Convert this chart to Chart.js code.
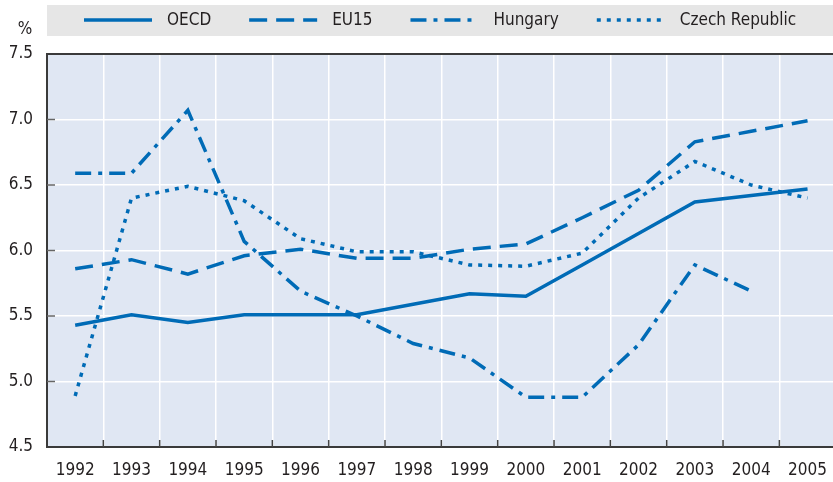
<!DOCTYPE html>
<html>
<head>
<meta charset="utf-8">
<script src="https://cdn.jsdelivr.net/npm/chart.js@4.4.1/dist/chart.umd.min.js"></script>
<style>
  html, body { margin: 0; padding: 0; background: #ffffff; overflow: hidden; }
  #wrap { width: 833px; height: 482px; overflow: hidden; position: relative; }
  canvas { display: block; }
</style>
</head>
<body>
<div id="wrap"><canvas id="c" width="840" height="482"></canvas></div>
<script>
// ---- Data ----
const years = ["1992","1993","1994","1995","1996","1997","1998","1999","2000","2001","2002","2003","2004","2005"];
const seriesNames = ["OECD", "EU15", "Hungary", "Czech Republic"];
const oecd    = [5.43, 5.51, 5.45, 5.51, 5.51, 5.51, 5.59, 5.67, 5.65, 5.89, 6.13, 6.37, 6.42, 6.47];
const eu15    = [5.86, 5.93, 5.82, 5.96, 6.01, 5.94, 5.94, 6.01, 6.05, 6.25, 6.46, 6.83, 6.91, 6.99];
const hungary = [6.59, 6.59, 7.07, 6.07, 5.69, 5.50, 5.29, 5.18, 4.88, 4.88, 5.28, 5.89, 5.69, null];
const czech   = [4.89, 6.40, 6.49, 6.38, 6.09, 5.99, 5.99, 5.89, 5.88, 5.98, 6.40, 6.68, 6.50, 6.40];
const yTicks  = [4.5, 5.0, 5.5, 6.0, 6.5, 7.0, 7.5];
const yUnit   = "%";

const BLUE = "rgb(0,107,182)";
const FONT = "'DejaVu Sans Condensed', 'Liberation Sans Narrow', sans-serif";
const TXT = "#231f20";
const dashes = [[], [18, 9], [16, 7, 4, 7], [4, 6]];
const values = [oecd, eu15, hungary, czech];

const datasets = seriesNames.map((n, i) => ({
  label: n,
  data: values[i],
  borderColor: BLUE,
  backgroundColor: BLUE,
  borderWidth: 3.5,
  borderDash: dashes[i],
  borderCapStyle: 'butt',
  borderJoinStyle: 'miter',
  pointRadius: 0,
  pointHoverRadius: 0,
  tension: 0,
  fill: false,
  spanGaps: false
}));

const decor = {
  id: 'decor',
  beforeDraw(chart) {
    const { ctx, chartArea: a } = chart;
    ctx.save();
    ctx.fillStyle = "#e0e7f3";
    ctx.fillRect(a.left, a.top, a.right - a.left, a.bottom - a.top);
    // legend box
    ctx.fillStyle = "#e6e6e6";
    ctx.fillRect(a.left, 5, 840 - a.left, 31);
    ctx.restore();
  },
  afterDraw(chart) {
    const { ctx, chartArea: a, scales } = chart;
    ctx.save();
    // top border
    ctx.strokeStyle = "#3a3a3a";
    ctx.lineWidth = 2;
    ctx.beginPath(); ctx.moveTo(a.left - 1, a.top); ctx.lineTo(a.right, a.top); ctx.stroke();
    // inside ticks
    ctx.strokeStyle = "#666";
    ctx.lineWidth = 1.5;
    yTicks.forEach(v => {
      if (v === yTicks[0] || v === yTicks[yTicks.length - 1]) return;
      const y = scales.y.getPixelForValue(v);
      ctx.beginPath(); ctx.moveTo(a.left, y); ctx.lineTo(a.left + 8, y); ctx.stroke();
    });
    ctx.strokeStyle = "#444";
    for (let i = 0; i < years.length - 1; i++) {
      const x = (scales.x.getPixelForTick(i) + scales.x.getPixelForTick(i + 1)) / 2;
      ctx.beginPath(); ctx.moveTo(x, a.bottom); ctx.lineTo(x, a.bottom - 7); ctx.stroke();
    }
    // unit label
    ctx.fillStyle = TXT;
    ctx.font = "17px " + FONT;
    ctx.textAlign = "center";
    ctx.textBaseline = "middle";
    ctx.fillText(yUnit, 25, 30);
    // legend items
    ctx.textAlign = "left";
    let x = 84;
    const ly = 20;
    chart.data.datasets.forEach((d, i) => {
      ctx.strokeStyle = d.borderColor;
      ctx.lineWidth = 3.5;
      ctx.setLineDash(d.borderDash);
      ctx.beginPath(); ctx.moveTo(x, ly); ctx.lineTo(x + 68, ly); ctx.stroke();
      ctx.setLineDash([]);
      x += 68 + 15;
      ctx.fillText(d.label, x, ly + 1);
      x += ctx.measureText(d.label).width + 38;
    });
    ctx.restore();
  }
};

new Chart(document.getElementById('c'), {
  type: 'line',
  data: { labels: years, datasets },
  options: {
    responsive: false,
    animation: false,
    events: [],
    layout: { padding: { top: 54, right: 0, bottom: 0, left: 0 } },
    plugins: { legend: { display: false }, tooltip: { enabled: false } },
    scales: {
      x: {
        offset: true,
        grid: { offset: true, color: "#ffffff", lineWidth: 1.5, drawTicks: false },
        border: { display: true, color: "#3a3a3a", width: 2 },
        ticks: { color: TXT, font: { family: FONT, size: 17 }, padding: 13, maxRotation: 0, autoSkip: false },
        afterFit(s) { s.height = 35; }
      },
      y: {
        min: 4.5, max: 7.5,
        afterBuildTicks(s) { s.ticks = yTicks.map(v => ({ value: v })); },
        grid: { color: "#ffffff", lineWidth: 1.5, drawTicks: false },
        border: { display: true, color: "#3a3a3a", width: 2 },
        ticks: { color: TXT, font: { family: FONT, size: 17 }, padding: 14, callback: v => Number(v).toFixed(1) },
        afterFit(s) { s.width = 47; }
      }
    }
  },
  plugins: [decor]
});
</script>
</body>
</html>
